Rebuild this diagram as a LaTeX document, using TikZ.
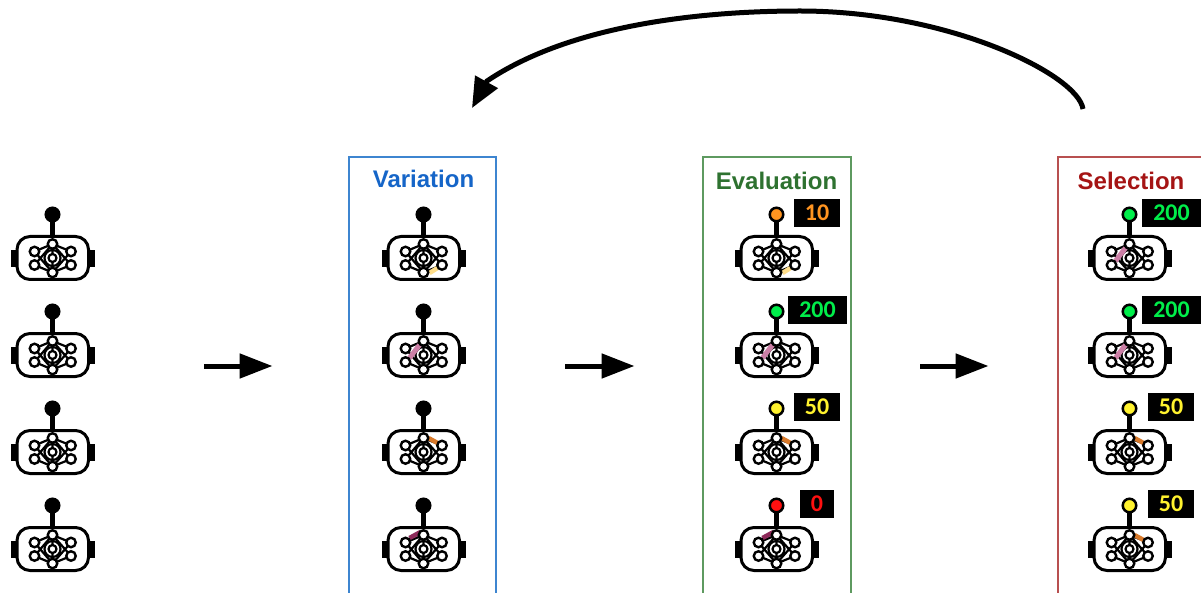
\documentclass[tikz,border=0pt]{standalone}
\usepackage{fontspec}
\setmainfont{Liberation Sans}
\newfontfamily\badgefont{Carlito}
\usetikzlibrary{arrows.meta}
\definecolor{varblue}{HTML}{1565C8}
\definecolor{varframe}{HTML}{3D85D0}
\definecolor{evalgreen}{HTML}{2E7230}
\definecolor{evalframe}{HTML}{5E9A60}
\definecolor{selred}{HTML}{A51414}
\definecolor{selframe}{HTML}{B85050}
\definecolor{sgreen}{HTML}{00EE4A}
\definecolor{syellow}{HTML}{FFF22E}
\definecolor{sorange}{HTML}{FF9420}
\definecolor{sred}{HTML}{FF1010}
\definecolor{epale}{HTML}{FFDE8A}
\definecolor{epink}{HTML}{CC7FA6}
\definecolor{eorange}{HTML}{D97A2B}
\definecolor{epurple}{HTML}{8E2A5A}
\tikzset{
  x=1pt,y=-1pt,
  flow/.style={line width=5pt,-{Triangle[length=33pt,width=24pt]}},
  loopflow/.style={line width=5pt,-{Triangle[length=30pt,width=25pt]}},
  frameA/.style={draw=varframe,line width=1.2pt},
  frameB/.style={draw=evalframe,line width=1.2pt},
  frameC/.style={draw=selframe,line width=1.2pt},
  titletext/.style={font=\bfseries\fontsize{24}{28}\selectfont,inner sep=0pt,anchor=center},
  badge/.style={fill=black,inner sep=0pt,anchor=center,font=\badgefont\bfseries\fontsize{24}{26}\selectfont},
  netnode/.style={circle,draw=black,fill=white,line width=2.4pt,minimum size=9.5pt,inner sep=0pt},
  hubnode/.style={circle,draw=black,fill=white,line width=2.2pt,minimum size=8pt,inner sep=0pt},
  ball/.style={circle,draw=black,line width=2.5pt,minimum size=13.5pt,inner sep=0pt},
  netline/.style={line width=2.2pt,black},
  pics/robot/.style n args={2}{code={
    \fill[black] (-41.5,-8) rectangle (-35,9);
    \fill[black] (35,-8) rectangle (42,9);
    \draw[line width=3pt,fill=white,rounded corners=13pt] (-35.5,-21.5) rectangle (36,21.5);
    \draw[line width=5.5pt] (0,-21.5) -- (0,-40);
    \node[ball,fill=#1] (-b) at (0,-43.5) {};
    \draw[netline] (0,0) circle (8);
    \coordinate (-t) at (0,-14); \coordinate (-d) at (0,14.5);
    \coordinate (-l1) at (-18,-6.5); \coordinate (-l2) at (-18,7);
    \coordinate (-r1) at (18.5,-6.5); \coordinate (-r2) at (18.5,7);
    \coordinate (-c) at (0,0);
    \draw[netline] (-t)--(-l1)--(-d)--(-r1)--(-t)--(-l2)--(-d)--(-r2)--(-t) (-t)--(-d);
    #2
    \node[netnode] at (-t) {}; \node[netnode] at (-d) {};
    \node[netnode] at (-l1) {}; \node[netnode] at (-l2) {};
    \node[netnode] at (-r1) {}; \node[netnode] at (-r2) {};
    \node[hubnode] at (-c) {};
  }},
}
\newcommand{\paleedge}{\draw[epale,line width=4.5pt] (6,15)--(14,10);}
\newcommand{\pinkedge}{\draw[epink,line width=5pt] (-14,3)--(-4,-10);}
\newcommand{\orangeedge}{\draw[eorange,line width=4.5pt] (5,-14)--(14,-9);}
\newcommand{\purpleedge}{\draw[epurple,line width=4.5pt] (-14,-11)--(-3,-17);}
\begin{document}
\begin{tikzpicture}
\useasboundingbox[clip] (0,0) rectangle (1201,593);
\fill[white] (0,0) rectangle (1201,593);
% frames
\draw[frameA] (349,157) rectangle (496,620);
\draw[frameB] (703,157) rectangle (851,620);
\draw[frameC] (1058,157) rectangle (1230,620);
\node[titletext,text=varblue] (tv) at (423.5,179) {Variation};
\node[titletext,text=evalgreen] (te) at (776.5,181) {Evaluation};
\node[titletext,text=selred] (ts) at (1131,181) {Selection};
% first column
\pic (a1) at (52.5,258) {robot={black}{}};
\pic (a2) at (52.5,355) {robot={black}{}};
\pic (a3) at (52.5,452) {robot={black}{}};
\pic (a4) at (52.5,549) {robot={black}{}};
% variation
\pic (v1) at (423.5,258) {robot={black}{\paleedge}};
\pic (v2) at (423.5,355) {robot={black}{\pinkedge}};
\pic (v3) at (423.5,452) {robot={black}{\orangeedge}};
\pic (v4) at (423.5,549) {robot={black}{\purpleedge}};
% evaluation
\pic (e1) at (776.5,258) {robot={sorange}{\paleedge}};
\pic (e2) at (776.5,355) {robot={sgreen}{\pinkedge}};
\pic (e3) at (776.5,452) {robot={syellow}{\orangeedge}};
\pic (e4) at (776.5,549) {robot={sred}{\purpleedge}};
% selection
\pic (s1) at (1129.5,258) {robot={sgreen}{\pinkedge}};
\pic (s2) at (1129.5,355) {robot={sgreen}{\pinkedge}};
\pic (s3) at (1129.5,452) {robot={syellow}{\orangeedge}};
\pic (s4) at (1129.5,549) {robot={syellow}{\orangeedge}};
% badges
\node[badge,minimum width=46pt,minimum height=28pt,text=sorange] (be1) at (817,213) {10};
\node[badge,minimum width=59pt,minimum height=28pt,text=sgreen] (be2) at (817.5,310) {200};
\node[badge,minimum width=46pt,minimum height=28pt,text=syellow] (be3) at (817,407) {50};
\node[badge,minimum width=34pt,minimum height=28pt,text=sred] (be4) at (817,504) {0};
\node[badge,minimum width=59pt,minimum height=28pt,text=sgreen] (bs1) at (1171.5,213) {200};
\node[badge,minimum width=59pt,minimum height=28pt,text=sgreen] (bs2) at (1171.5,310) {200};
\node[badge,minimum width=46pt,minimum height=28pt,text=syellow] (bs3) at (1171,407) {50};
\node[badge,minimum width=46pt,minimum height=28pt,text=syellow] (bs4) at (1171,504) {50};
% arrows
\coordinate (f1a) at (204,366); \coordinate (f1b) at (272.5,366);
\coordinate (f2a) at (565,366); \coordinate (f2b) at (634.5,366);
\coordinate (f3a) at (920,366); \coordinate (f3b) at (988.5,366);
\coordinate (la) at (1083,109); \coordinate (lm) at (487,81); \coordinate (lb) at (472,108);
\draw[flow] (f1a)--(f1b);
\draw[flow] (f2a)--(f2b);
\draw[flow] (f3a)--(f3b);
\draw[loopflow] (la) .. controls (1078,75) and (950,11) .. (800,11) .. controls (700,11) and (570,25) .. (lm) -- (lb);
\end{tikzpicture}
\end{document}
